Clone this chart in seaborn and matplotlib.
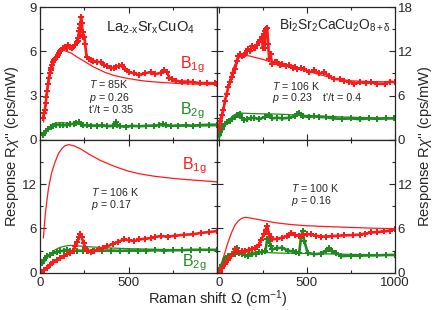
import numpy as np
import pandas as pd
import matplotlib
matplotlib.use("Agg")
import matplotlib.pyplot as plt
import seaborn as sns
from matplotlib.ticker import MultipleLocator

# ---------------- data ----------------
# Top-left: La2-xSrxCuO4, T=85K, p=0.26
tl_b1g_x = [17,22,27,32,36,40,45,50,55,60,64,70,74,80,86,93,100,106,112,120,131,140,150,159,170,178,188,197,206,212,216,220,223,225,228,231,235,240,245,250,254,263,275,290,300,320,341,360,380,400,415,430,445,464,480,500,530,560,590,625,650,680,700,715,729,745,767,800,833,862,900,940,985,1000]
tl_b1g_y = [1.5,1.8,2.0,2.5,2.9,3.3,3.8,4.2,4.5,4.7,4.9,5.1,5.25,5.4,5.5,5.6,5.75,5.9,6.0,6.1,6.25,6.3,6.2,6.4,6.3,6.25,6.3,6.4,6.6,6.7,6.9,7.4,7.1,7.85,7.6,8.3,7.9,7.3,6.95,7.0,6.5,5.6,5.5,5.4,5.35,5.3,5.25,5.1,5.0,4.9,4.86,4.95,5.0,5.07,4.8,4.6,4.5,4.4,4.5,4.6,4.45,4.55,4.7,4.6,4.2,4.1,4.0,3.95,3.95,3.9,3.85,3.85,3.83,3.8]
tl_b1g_th_x = [20,40,60,80,100,120,135,150,178,210,244,300,367,420,481,550,600,672,750,862,1000]
tl_b1g_th_y = [1.2,3.2,4.5,5.3,5.75,6.0,6.05,6.0,5.86,5.6,5.36,4.95,4.57,4.35,4.19,4.05,3.97,3.9,3.84,3.78,3.75]
tl_b2g_x = [17,25,35,45,60,75,90,110,130,150,170,190,205,218,230,245,265,290,320,350,380,410,420,426,432,450,483,520,560,600,640,670,691,710,740,780,820,860,900,950,1000]
tl_b2g_y = [0.35,0.45,0.6,0.75,0.85,0.95,1.0,1.02,0.98,1.0,1.05,1.1,1.15,1.2,1.05,0.98,1.0,0.95,0.95,0.98,0.92,0.95,1.1,1.2,0.98,0.92,0.9,0.95,0.92,0.95,0.97,1.0,1.05,0.98,0.95,0.97,0.98,0.96,1.0,1.02,1.03]
tl_b2g_th_x = [20,40,60,80,110,140,200,300,500,1000]
tl_b2g_th_y = [0.35,0.7,0.95,1.1,1.17,1.15,1.08,1.0,0.96,0.95]

# Top-right: Bi2Sr2CaCu2O8+d, T=106K, p=0.23
tr_b1g_x = [0,6,15,25,34,44,53,63,73,82,92,102,111,120,130,140,149,158,168,178,188,198,207,216,226,235,245,250,255,260,264,269,274,280,285,293,303,317,331,345,360,379,398,418,432,446,465,483,513,540,570,598,625,655,685,713,740,770,800,835,866,900,943,970,1000]
tr_b1g_y = [1.5,2.6,3.3,4.0,5.3,6.2,7.1,7.8,8.5,9.1,9.6,10.7,11.4,11.6,11.4,11.5,11.6,12.0,12.3,12.1,12.7,12.4,12.5,12.9,13.2,13.5,13.9,12.5,14.3,12.5,14.8,15.0,15.2,13.0,11.0,11.6,10.3,10.6,10.5,10.2,10.3,10.0,10.1,9.8,9.9,9.6,9.7,9.6,9.15,9.4,9.0,9.15,8.6,8.25,8.2,8.0,7.9,7.6,7.8,7.7,7.8,7.6,7.6,7.9,7.8]
tr_b1g_th_x = [5,20,40,60,80,100,120,140,167,200,250,300,350,435,500,580,665,750,850,1000]
tr_b1g_th_y = [0.8,3.0,5.8,8.0,9.6,10.7,11.2,11.4,11.4,11.2,10.9,10.5,10.2,9.8,9.3,8.8,8.25,8.0,7.9,7.85]
tr_b2g_x = [0,8,15,25,34,45,55,63,75,92,100,111,119,130,145,160,180,200,230,260,282,300,330,360,400,430,445,454,465,480,510,540,570,607,650,700,750,799,850,900,950,994]
tr_b2g_y = [0.6,1.0,1.5,1.9,2.2,2.4,2.5,2.6,2.8,3.1,3.3,3.4,3.5,3.0,2.7,2.8,2.9,3.0,2.8,3.1,3.3,2.9,3.0,2.9,3.0,3.2,3.5,3.7,3.3,3.2,3.1,3.2,3.1,3.07,2.9,2.85,2.9,2.8,2.9,2.85,2.9,2.9]
tr_b2g_th_x = [0,20,50,80,110,150,200,320,420,511,700,1000]
tr_b2g_th_y = [0.1,1.2,2.5,3.3,3.65,3.6,3.55,3.5,3.4,3.3,3.1,2.9]

# Bottom-left: La2-xSrxCuO4, T=106K, p=0.17
bl_b1g_x = [9,25,40,57,75,95,114,135,152,170,185,199,210,220,227,235,246,255,265,285,303,330,355,379,410,440,473,500,530,560,590,625,650,680,720,760,814,860,909,950,1000]
bl_b1g_y = [0.15,0.4,0.7,1.05,1.4,1.7,2.0,2.3,2.5,2.65,3.0,3.56,4.2,4.9,5.2,4.8,4.0,3.3,2.9,2.85,2.9,3.2,3.4,3.56,3.9,4.2,4.5,4.4,4.3,4.5,4.6,4.7,4.85,4.95,4.9,5.0,5.15,5.2,5.4,5.5,5.65]
bl_b1g_th_x = [19,30,47,65,85,105,123,140,161,190,227,280,341,420,492,560,644,740,833,920,1000]
bl_b1g_th_y = [4.7,8.0,11.3,13.5,15.0,16.2,16.8,17.2,17.35,17.2,16.8,16.0,15.2,14.4,13.8,13.4,13.07,12.8,12.6,12.45,12.3]
bl_b2g_x = [9,20,38,57,76,95,114,133,152,170,190,210,240,270,300,350,400,450,500,550,600,650,700,750,800,850,900,950,1000]
bl_b2g_y = [1.3,1.7,2.2,2.45,2.65,2.8,2.9,3.0,3.1,2.9,2.95,3.0,2.95,3.0,2.95,3.0,3.0,2.95,3.0,3.0,3.0,3.05,3.0,3.05,3.05,3.1,3.1,3.1,3.1]
bl_b2g_th_x = [20,40,60,85,110,140,170,210,250,320,400,500,600,800,1000]
bl_b2g_th_y = [1.2,2.0,2.6,3.1,3.4,3.6,3.7,3.65,3.55,3.45,3.35,3.25,3.2,3.1,3.05]

# Bottom-right: Bi2Sr2CaCu2O8+d, T=100K, p=0.16
br_b1g_x = [6,20,35,52,71,92,111,130,150,170,188,205,215,226,240,255,265,274,284,293,303,330,360,385,397,408,430,456,480,500,522,550,580,607,640,674,710,760,799,830,866,900,940,970,1000]
br_b1g_y = [0.1,0.6,1.2,1.75,2.3,3.15,2.8,2.9,3.0,3.1,3.15,3.4,3.5,3.8,4.4,5.2,5.8,6.35,5.2,4.8,4.5,4.6,4.75,5.0,5.15,5.4,5.1,5.0,5.1,5.2,5.2,5.0,4.9,4.9,4.95,5.0,5.05,5.1,5.15,5.3,5.45,5.5,5.6,5.7,5.9]
br_b1g_th_x = [0,15,33,50,71,90,109,128,148,180,224,270,320,400,473,580,703,850,1000]
br_b1g_th_y = [0.1,1.3,2.65,4.0,5.4,6.4,7.0,7.35,7.5,7.4,7.2,7.0,6.77,6.55,6.4,6.28,6.17,6.05,5.95]
br_b2g_x = [0,15,34,50,73,90,102,115,130,150,168,190,210,226,245,264,274,287,295,303,330,360,390,418,440,456,466,475,485,504,540,580,607,626,645,665,694,750,799,850,900,950,1000]
br_b2g_y = [0.4,1.1,1.8,2.2,2.5,2.6,3.4,2.7,2.5,2.4,2.3,2.5,2.6,2.75,2.8,2.9,4.5,4.25,3.6,3.15,3.3,3.4,3.0,2.9,2.8,2.7,4.75,5.67,4.3,2.7,2.5,2.6,3.0,3.4,2.9,2.7,2.25,2.3,2.3,2.35,2.35,2.4,2.4]
br_b2g_th_x = [0,20,45,70,100,140,168,250,350,500,700,1000]
br_b2g_th_y = [0.1,1.0,1.8,2.3,2.6,2.75,2.8,2.75,2.65,2.6,2.5,2.4]

RED = "#ff1a1a"
GREEN = "#1f8a1f"

# ---------------- style ----------------
sns.set_theme(style="ticks")
plt.rcParams["font.family"] = ["Liberation Sans", "DejaVu Sans"]
plt.rcParams["mathtext.fontset"] = "custom"
plt.rcParams["mathtext.rm"] = "Liberation Sans"
plt.rcParams["mathtext.it"] = "Liberation Sans:italic"
plt.rcParams["mathtext.bf"] = "Liberation Sans:bold"
plt.rcParams["axes.linewidth"] = 0.9

fig = plt.figure(figsize=(4.35, 3.10), dpi=100)
gs = fig.add_gridspec(2, 2, left=40/435, right=395/435, top=1-7/310, bottom=1-272.7/310,
                      wspace=0, hspace=0)
axes = [[fig.add_subplot(gs[i, j]) for j in range(2)] for i in range(2)]


def draw(ax, dx, dy, color):
    df = pd.DataFrame({"x": dx, "y": dy})
    sns.lineplot(data=df, x="x", y="y", ax=ax, color=color, linewidth=1.9,
                 marker="P", markersize=3.8, markeredgewidth=0, sort=False)


def theory(ax, tx, ty, color):
    df = pd.DataFrame({"x": tx, "y": ty})
    sns.lineplot(data=df, x="x", y="y", ax=ax, color=color, linewidth=0.9)


panels = [
    (axes[0][0], tl_b1g_x, tl_b1g_y, tl_b1g_th_x, tl_b1g_th_y, tl_b2g_x, tl_b2g_y, tl_b2g_th_x, tl_b2g_th_y),
    (axes[0][1], tr_b1g_x, tr_b1g_y, tr_b1g_th_x, tr_b1g_th_y, tr_b2g_x, tr_b2g_y, tr_b2g_th_x, tr_b2g_th_y),
    (axes[1][0], bl_b1g_x, bl_b1g_y, bl_b1g_th_x, bl_b1g_th_y, bl_b2g_x, bl_b2g_y, bl_b2g_th_x, bl_b2g_th_y),
    (axes[1][1], br_b1g_x, br_b1g_y, br_b1g_th_x, br_b1g_th_y, br_b2g_x, br_b2g_y, br_b2g_th_x, br_b2g_th_y),
]
for ax, b1x, b1y, t1x, t1y, b2x, b2y, t2x, t2y in panels:
    theory(ax, t1x, t1y, RED)
    theory(ax, t2x, t2y, GREEN)
    draw(ax, b2x, b2y, GREEN)
    draw(ax, b1x, b1y, RED)
    ax.set_xlabel("")
    ax.set_ylabel("")
    ax.xaxis.set_major_locator(MultipleLocator(500))
    ax.xaxis.set_minor_locator(MultipleLocator(250))
    ax.tick_params(which="both", direction="in", top=True, right=True, left=True, bottom=True,
                   labelsize=9.5, width=0.8, pad=2)
    ax.tick_params(which="major", length=4)
    ax.tick_params(which="minor", length=2)

# limits and ticks
axes[0][0].set_xlim(0, 1000)
axes[1][0].set_xlim(0, 1000)
axes[0][1].set_xlim(-8, 1000)
axes[1][1].set_xlim(-8, 1000)

axes[0][0].set_ylim(0, 9)
axes[0][0].set_yticks([0, 3, 6, 9])
axes[0][0].yaxis.set_minor_locator(MultipleLocator(1.5))

axes[0][1].set_ylim(0, 18)
axes[0][1].set_yticks([0, 6, 12, 18])
axes[0][1].yaxis.set_minor_locator(MultipleLocator(3))

for ax in (axes[1][0], axes[1][1]):
    ax.set_ylim(0, 18)
    ax.set_yticks([0, 6, 12, 18])
    ax.set_yticklabels(["0", "6", "12", ""])
    ax.yaxis.set_minor_locator(MultipleLocator(3))
    ax.tick_params(axis="x", pad=3)

for ax in (axes[0][0], axes[0][1]):
    ax.tick_params(labelbottom=False)
for ax in (axes[0][1], axes[1][1]):
    ax.tick_params(labelleft=False, labelright=True)

axes[1][0].set_xticks([0, 500, 1000])
axes[1][0].set_xticklabels(["0", "500", ""])
axes[1][1].set_xticks([0, 500, 1000])
axes[1][1].set_xticklabels(["0", "500", "1000"])

# annotations
tfs = 7.7
a = axes[0][0]
a.text(0.372, 0.816, r"$\mathregular{La_{2\text{-}x}Sr_xCuO_4}$", transform=a.transAxes, fontsize=10.5, va="baseline")
a.text(0.79, 0.537, r"$\mathregular{B_{1g}}$", transform=a.transAxes, fontsize=11.5, color=RED, va="baseline")
a.text(0.79, 0.194, r"$\mathregular{B_{2g}}$", transform=a.transAxes, fontsize=11.5, color=GREEN, va="baseline")
a.text(0.276, 0.388, r"$T$ = 85K", transform=a.transAxes, fontsize=tfs, va="baseline")
a.text(0.276, 0.293, r"$p$ = 0.26", transform=a.transAxes, fontsize=tfs, va="baseline")
a.text(0.276, 0.199, "t'/t = 0.35", transform=a.transAxes, fontsize=tfs, va="baseline")

a = axes[0][1]
a.text(0.347, 0.828, r"$\mathregular{Bi_2Sr_2CaCu_2O_{8+\delta}}$", transform=a.transAxes, fontsize=10, va="baseline")
a.text(0.305, 0.375, r"$T$ = 106 K", transform=a.transAxes, fontsize=tfs, va="baseline")
a.text(0.305, 0.293, r"$p$ = 0.23", transform=a.transAxes, fontsize=tfs, va="baseline")
a.text(0.595, 0.293, "t'/t = 0.4", transform=a.transAxes, fontsize=tfs, va="baseline")

a = axes[1][0]
a.text(0.80, 0.78, r"$\mathregular{B_{1g}}$", transform=a.transAxes, fontsize=11.5, color=RED, va="baseline")
a.text(0.80, 0.046, r"$\mathregular{B_{2g}}$", transform=a.transAxes, fontsize=11.5, color=GREEN, va="baseline")
a.text(0.286, 0.58, r"$T$ = 106 K", transform=a.transAxes, fontsize=tfs, va="baseline")
a.text(0.286, 0.484, r"$p$ = 0.17", transform=a.transAxes, fontsize=tfs, va="baseline")

a = axes[1][1]
a.text(0.413, 0.606, r"$T$ = 100 K", transform=a.transAxes, fontsize=tfs, va="baseline")
a.text(0.413, 0.52, r"$p$ = 0.16", transform=a.transAxes, fontsize=tfs, va="baseline")

ylab = "Response R$\\chi$'' (cps/mW)"
fig.text(0.028, 0.53, ylab, rotation=90, ha="center", va="center", fontsize=10.5)
fig.text(0.977, 0.53, ylab, rotation=90, ha="center", va="center", fontsize=10.5)
fig.text(0.5, 0.034, r"Raman shift $\Omega$ (cm$^{-1}$)", ha="center", va="center", fontsize=10.5)

fig.savefig("out.png", dpi=100)
